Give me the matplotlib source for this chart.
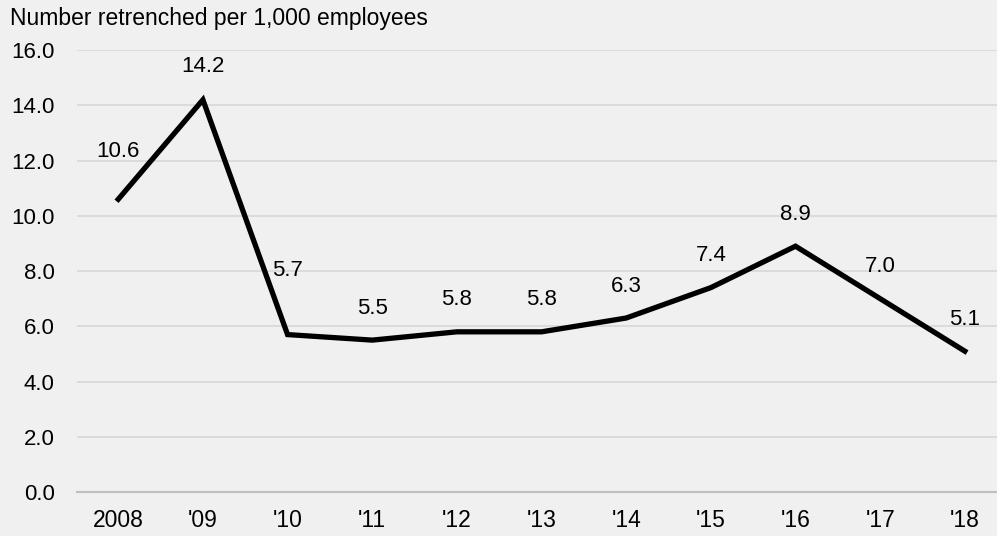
import numpy as np
import matplotlib.pyplot as plt

plt.rcParams["font.family"] = ["Liberation Sans", "DejaVu Sans"]

years = ["2008", "'09", "'10", "'11", "'12", "'13", "'14", "'15", "'16", "'17", "'18"]
retrenched = [10.6, 14.2, 5.7, 5.5, 5.8, 5.8, 6.3, 7.4, 8.9, 7.0, 5.1]

# label offsets above each point, in pixels
label_dy = [48, 33, 64, 32, 32, 32, 32, 32, 32, 32, 32]

bg = "#f0f0f0"
fig = plt.figure(figsize=(9.97, 5.36), dpi=100, facecolor=bg)
ax = fig.add_axes([0.077, 0.082, 0.923, 0.8246], facecolor=bg)

x = np.arange(len(years))
ax.plot(x, retrenched, color="black", lw=3.8, solid_joinstyle="miter", zorder=3)

for xi, v, dy in zip(x, retrenched, label_dy):
    ax.annotate(f"{v:.1f}", xy=(xi, v), xytext=(0, dy), textcoords="offset pixels",
                ha="center", va="center", fontsize=16, color="black")

ax.set_xlim(-0.49, 10.38)
ax.set_ylim(0, 16)
ax.set_yticks(np.arange(0, 16.1, 2))
ax.set_yticklabels([f"{t:.1f}" for t in np.arange(0, 16.1, 2)])
ax.set_xticks(x)
ax.set_xticklabels(years)
ax.tick_params(axis="y", length=0, pad=16, labelsize=16)
ax.tick_params(axis="x", length=0, pad=12, labelsize=16.5)

ax.grid(axis="y", color="#d9d9d9", lw=1.3)
ax.set_axisbelow(True)
for side in ["top", "right", "left"]:
    ax.spines[side].set_visible(False)
ax.spines["bottom"].set_color("#bfbfbf")
ax.spines["bottom"].set_linewidth(1.5)

fig.text(0.01, 1 - 18 / 536, "Number retrenched per 1,000 employees",
         ha="left", va="center", fontsize=16.5)

fig.savefig("out.png", dpi=100, facecolor=bg)
